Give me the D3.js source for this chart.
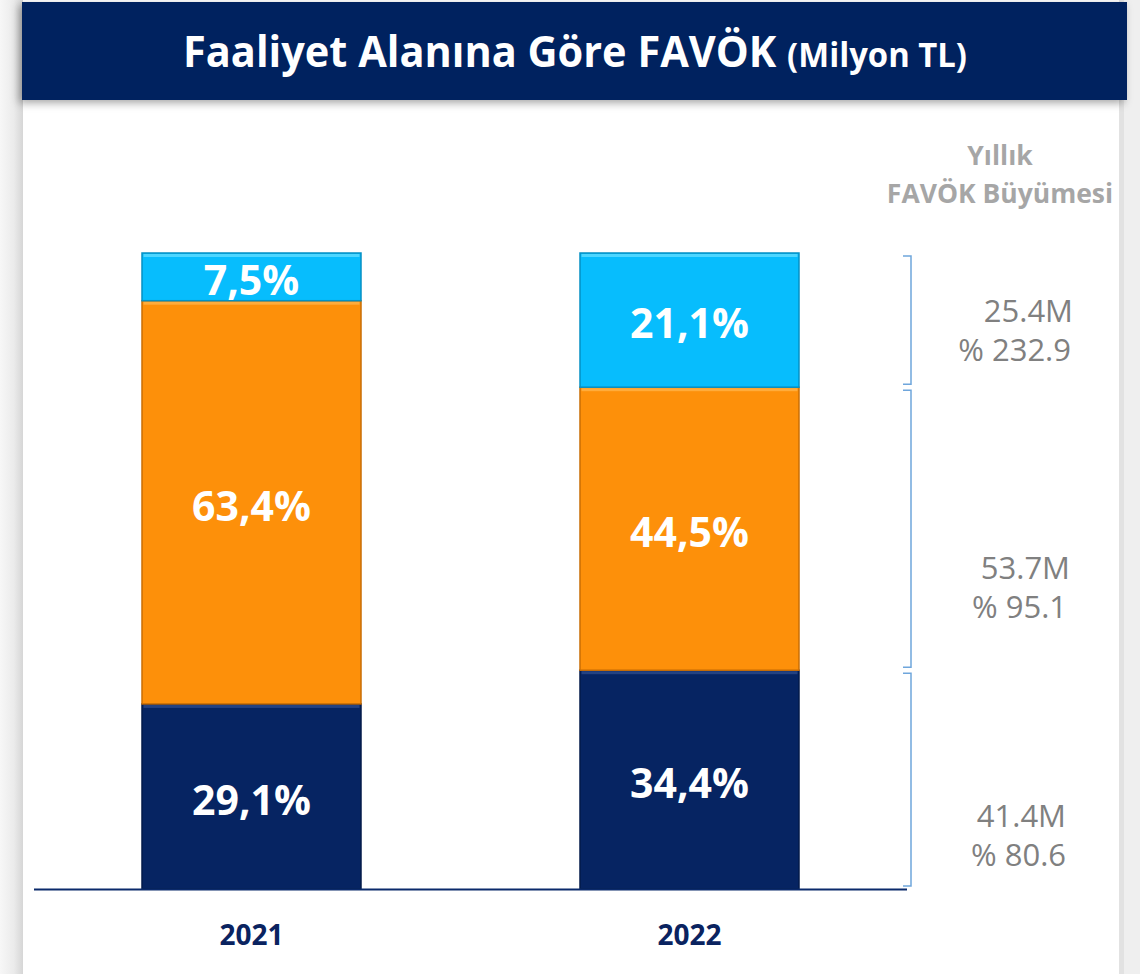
<!DOCTYPE html>
<html><head><meta charset="utf-8">
<script src="https://cdn.jsdelivr.net/npm/d3@7"></script>
<style>html,body{margin:0;padding:0;background:#fff;}svg{display:block;}</style>
</head><body>
<svg id="chart" width="1140" height="974"></svg>
<script>
// ---- data ----
const years = ["2021", "2022"];
const seriesNames = ["s1", "s2", "s3"]; // bottom (navy), middle (orange), top (cyan)
const values2021 = [29.1, 63.4, 7.5];
const values2022 = [34.4, 44.5, 21.1];
const growthAmount = ["41.4M", "53.7M", "25.4M"];
const growthPct = ["% 80.6", "% 95.1", "% 232.9"];
const titleMain = "Faaliyet Alanına Göre FAVÖK";
const titleSub = "(Milyon TL)";
const sideHeader = ["Yıllık", "FAVÖK Büyümesi"];

const colors = ["#062462", "#fd900a", "#07bdfd"];
const edgeColors = ["#031a4a", "#c96e05", "#0590c4"];
const hiColors = ["#2c4a8a", "#ffb347", "#5fdcff"];

const svg = d3.select("#chart");
const W = 1140, H = 974;

// background / frame
const defs = svg.append("defs");
const lg = defs.append("linearGradient").attr("id", "lsh").attr("x1", 0).attr("x2", 1);
lg.append("stop").attr("offset", "0%").attr("stop-color", "#f7f7f7");
lg.append("stop").attr("offset", "60%").attr("stop-color", "#ebebeb");
lg.append("stop").attr("offset", "100%").attr("stop-color", "#d6d6d6");
svg.append("rect").attr("x", 0).attr("y", 0).attr("width", 23).attr("height", H).attr("fill", "url(#lsh)");
svg.append("rect").attr("x", 1119).attr("y", 0).attr("width", 21).attr("height", H).attr("fill", "#efefef");
svg.append("rect").attr("x", 1119).attr("y", 0).attr("width", 5).attr("height", H).attr("fill", "#e2e2e2");

// banner
const bf = defs.append("filter").attr("id", "bsh").attr("x", "-5%").attr("y", "-20%").attr("width", "110%").attr("height", "150%");
bf.append("feDropShadow").attr("dx", -3).attr("dy", 3).attr("stdDeviation", 4).attr("flood-color", "#000").attr("flood-opacity", 0.35);
svg.append("rect").attr("x", 22).attr("y", 2).attr("width", 1105).attr("height", 98)
  .attr("fill", "#05205f").attr("filter", "url(#bsh)");

const title = svg.append("text").attr("y", 67).attr("fill", "#fff")
  .attr("font-family", "'Open Sans', sans-serif").attr("font-weight", 700);
title.append("tspan").attr("font-size", 43).text(titleMain + " ");
title.append("tspan").attr("font-size", 34).text(titleSub);
const tw = title.node().getComputedTextLength();
const targetW = 784;
title.attr("transform", `translate(${575 - targetW / 2},0) scale(${targetW / tw},1)`).attr("x", 0);

// scales
const x = d3.scaleBand().domain(years).range([32.5, 908.5]).paddingInner(0.5).paddingOuter(0.25);
const y = d3.scaleLinear().domain([0, 100]).range([889, 253]);

const rows = years.map((yr, i) => {
  const vals = i === 0 ? values2021 : values2022;
  const o = { year: yr };
  seriesNames.forEach((s, j) => o[s] = vals[j]);
  return o;
});
const stack = d3.stack().keys(seriesNames)(rows);

const g = svg.append("g");
stack.forEach((layer, j) => {
  layer.forEach(d => {
    const x0 = x(d.data.year), bw = x.bandwidth();
    const y0 = y(d[1]), h = y(d[0]) - y(d[1]);
    g.append("rect").attr("x", x0).attr("y", y0).attr("width", bw).attr("height", h)
      .attr("fill", colors[j]).attr("stroke", edgeColors[j]).attr("stroke-width", 1.5);
    g.append("rect").attr("x", x0 + 1.5).attr("y", y0 + 1).attr("width", bw - 3).attr("height", 3)
      .attr("fill", hiColors[j]).attr("opacity", 0.8);
    g.append("text").attr("x", x0 + bw / 2).attr("y", y0 + h / 2 + 4).attr("dy", "0.35em")
      .attr("text-anchor", "middle").attr("fill", "#fff")
      .attr("font-family", "'Open Sans', sans-serif").attr("font-weight", 700).attr("font-size", 41)
      .text(d3.format(".1f")(d[1] - d[0]).replace(".", ",") + "%");
  });
});

// axis baseline
const axis = d3.axisBottom(x).tickSize(0).tickPadding(36);
const ax = svg.append("g").attr("transform", `translate(0,${y(0)})`).call(axis);
ax.select(".domain").attr("d", `M34,0.5H907`).attr("stroke", "#0b2a6b").attr("stroke-width", 2);
ax.selectAll(".tick text").attr("fill", "#0a2360").attr("font-family", "'Open Sans', sans-serif")
  .attr("font-weight", 700).attr("font-size", 28).attr("dy", "0.71em");

// brackets for 2022 growth
const bx = 911, tick = 8;
const last = stack.map(l => l[1]);
const txtOffsets = [[37, 76], [39, 78], [-9, 30]];
const txtRight = [[1066, 1066], [1070, 1067], [1073, 1071]];
last.forEach((d, j) => {
  const top = y(d[1]) + 3, bot = y(d[0]) - 3;
  svg.append("path").attr("d", `M${bx - tick},${top}H${bx}V${bot}H${bx - tick}`)
    .attr("fill", "none").attr("stroke", "#6fa6dc").attr("stroke-width", 1.5);
  const mid = (top + bot) / 2;
  const t = svg.append("g").attr("font-family", "'Open Sans', sans-serif").attr("font-size", 31)
    .attr("fill", "#808080").attr("text-anchor", "end");
  t.append("text").attr("x", txtRight[j][0]).attr("y", mid + txtOffsets[j][0]).attr("dy", "0.35em").text(growthAmount[j]);
  t.append("text").attr("x", txtRight[j][1]).attr("y", mid + txtOffsets[j][1]).attr("dy", "0.35em").text(growthPct[j]);
});

// side header
sideHeader.forEach((s, i) => {
  svg.append("text").attr("x", 1000).attr("y", 165 + i * 38).attr("text-anchor", "middle")
    .attr("font-family", "'Open Sans', sans-serif").attr("font-weight", 700).attr("font-size", 26.5)
    .attr("fill", "#a6a6a6").text(s);
});
</script>
</body></html>
